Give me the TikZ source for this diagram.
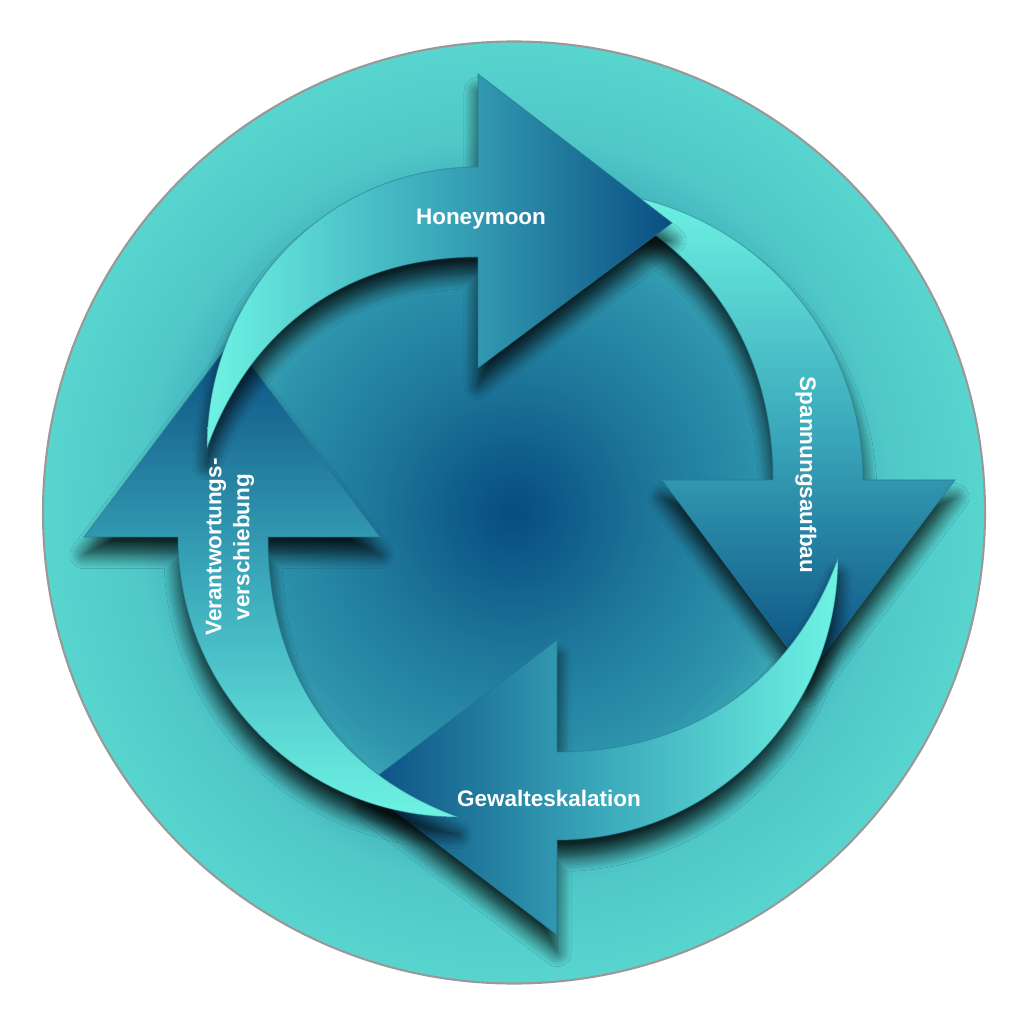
\documentclass[tikz,border=0pt]{standalone}
\usepackage{fontspec}
\setmainfont{Liberation Sans}
\usetikzlibrary{shadows.blur}
\definecolor{tealedge}{HTML}{58D5CF}
\definecolor{tealmid}{HTML}{2E94AC}
\definecolor{deepblue}{HTML}{064C80}
\definecolor{tailteal}{HTML}{6EF3E3}
\definecolor{shaftteal}{HTML}{3AA8BA}
\definecolor{tipblue}{HTML}{0A4E82}
\definecolor{rimgray}{HTML}{999999}

\pgfdeclareradialshading{discglow}{\pgfpoint{0bp}{0bp}}{%
  color(0bp)=(deepblue); color(7.5bp)=(tealmid!60!deepblue);
  color(13.75bp)=(tealmid); color(20bp)=(tealedge!80!tealmid);
  color(25bp)=(tealedge); color(50bp)=(tealedge)}

\begin{document}
\begin{tikzpicture}[
  cyclearrow/.style={
    draw=tealmid!80!black,
    draw opacity=0.45,
    line width=0.3pt,
    blur shadow={shadow xshift=0pt, shadow yshift=-5pt,
      shadow blur radius=4pt, shadow opacity=80, shadow blur steps=10,
      shadow blur extra rounding=0pt}
  },
  stagetext/.style={
    text=white,
    font=\fontsize{6.4}{8}\selectfont\bfseries,
    align=center,
    inner sep=0pt
  }
]
\useasboundingbox (0,0) rectangle (10.24,-10.22);

% Disc
\draw[rimgray, line width=0.6pt, shading=discglow] (5.14,-5.125) circle (4.71);

% Spannungsaufbau (right)
\draw[cyclearrow, top color=tailteal, bottom color=tipblue, middle color=shaftteal]
  (5.69,-1.90) to[out=0, in=90] (8.63,-4.80) -- (9.55,-4.80) -- (8.08,-6.75)
  -- (6.62,-4.80) -- (7.73,-4.80) to[out=90, in=-20] (5.69,-1.90) -- cycle;

% Gewalteskalation (bottom)
\draw[cyclearrow, right color=tailteal, left color=tipblue, middle color=shaftteal]
  (8.38,-5.58) to[out=-90, in=0] (5.57,-8.40) -- (5.57,-9.35) -- (3.63,-7.87)
  -- (5.57,-6.40) -- (5.57,-7.52) to[out=0, in=-110] (8.38,-5.58) -- cycle;

% Verantwortungsverschiebung (left)
\draw[cyclearrow, bottom color=tailteal, top color=tipblue, middle color=shaftteal]
  (4.58,-8.17) to[out=180, in=-90] (1.78,-5.37) -- (0.84,-5.37) -- (2.32,-3.40)
  -- (3.80,-5.37) -- (2.68,-5.37) to[out=-90, in=160] (4.58,-8.17) -- cycle;

% Honeymoon (top)
\draw[cyclearrow, left color=tailteal, right color=tipblue, middle color=shaftteal]
  (2.07,-4.48) to[out=90, in=180] (4.78,-1.67) -- (4.78,-0.74) -- (6.72,-2.23)
  -- (4.78,-3.68) -- (4.78,-2.57) to[out=180, in=70] (2.07,-4.48) -- cycle;

% Labels
\node[stagetext] (honeymoon) at (4.81,-2.19) {Honeymoon};
\node[stagetext, rotate=-90] (spannung) at (8.06,-4.75) {Spannungsaufbau};
\node[stagetext] (gewalt) at (5.49,-7.98) {Gewalteskalation};
\node[stagetext, rotate=90] (verantwortung) at (2.30,-5.47) {Verantwortungs-\\verschiebung};

\end{tikzpicture}
\end{document}
